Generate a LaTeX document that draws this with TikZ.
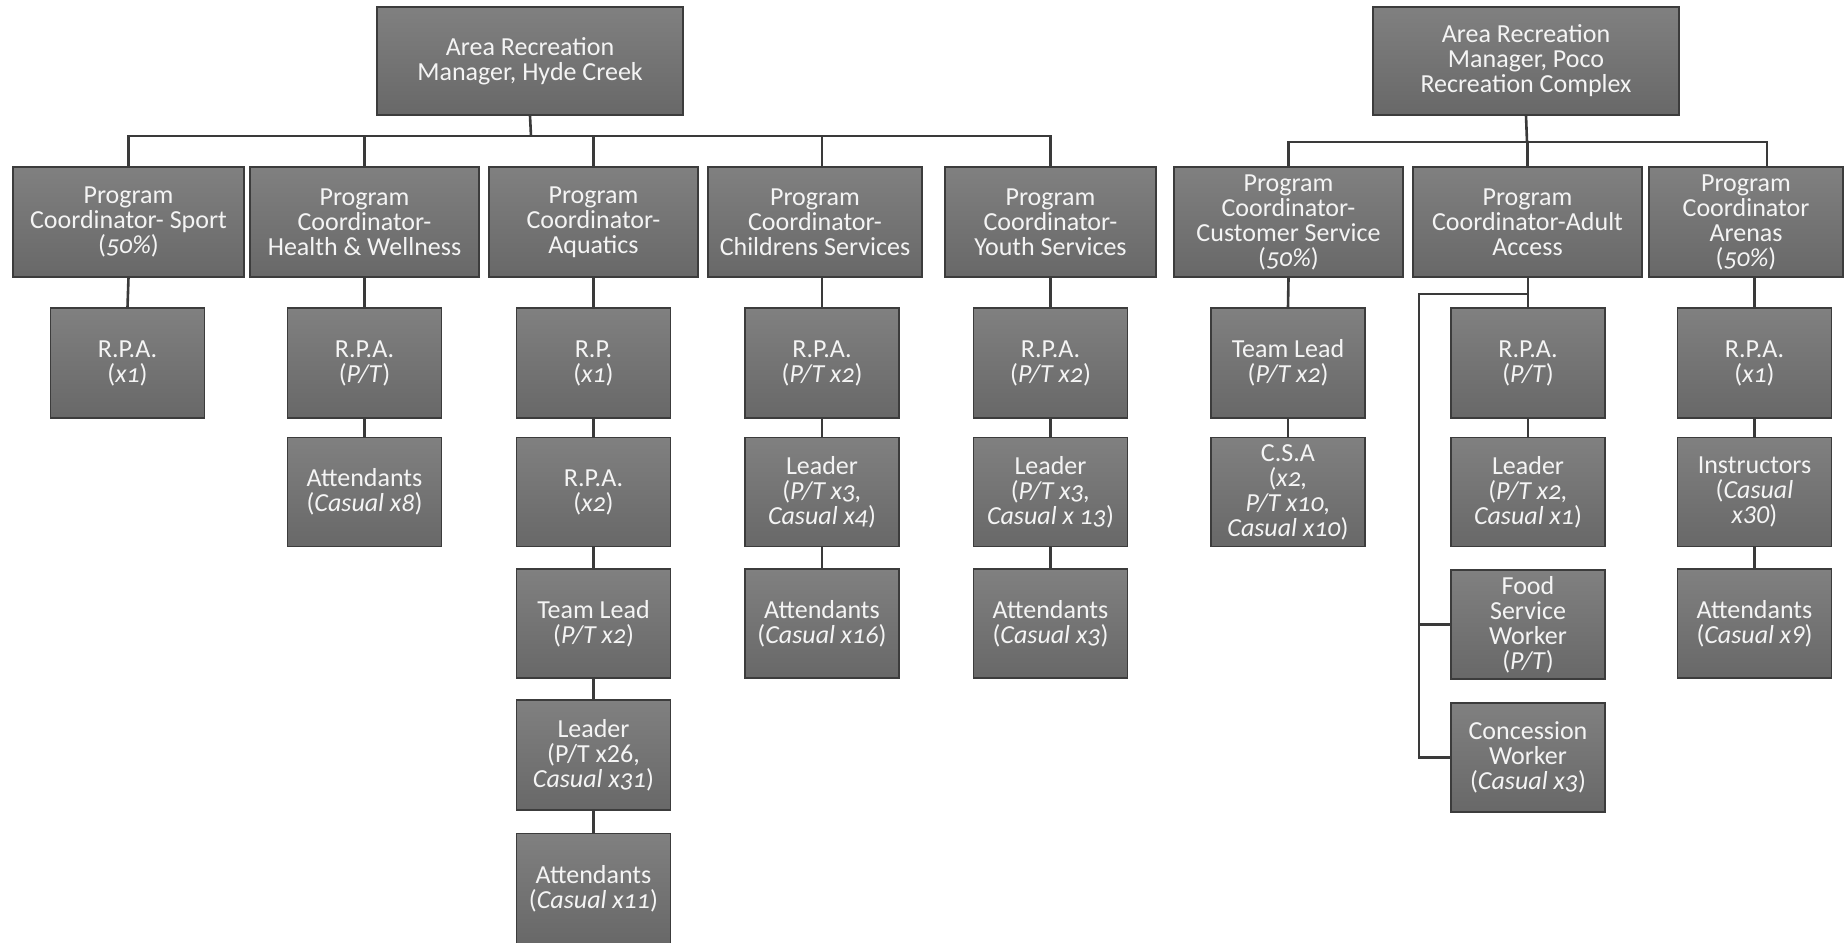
\documentclass[tikz,border=0pt]{standalone}
\usepackage{fontspec}
\setmainfont[Numbers=OldStyle]{Carlito}
\begin{document}
\begin{tikzpicture}[x=1pt,y=-1pt,
  box/.style={draw=bordc, line width=1.3pt, top color=topc, bottom color=botc,
    text=txtc, inner sep=0pt, align=center,
    font=\fontsize{26}{25}\selectfont},
  conn/.style={draw=connc, line width=2.6pt},
]
\definecolor{bordc}{HTML}{3C3C3C}
\definecolor{topc}{HTML}{808080}
\definecolor{botc}{HTML}{686868}
\definecolor{txtc}{HTML}{F4F4F4}
\definecolor{connc}{HTML}{3A3A3A}
\useasboundingbox (0,0) rectangle (1846,942);
\begin{scope}
\clip (0,0) rectangle (1846,942);
% managers
\node[box, minimum width=306, minimum height=108] (m1) at (530,61) {Area Recreation\\Manager, Hyde Creek};
\node[box, minimum width=306, minimum height=108] (m2) at (1526,61) {Area Recreation\\Manager, Poco\\Recreation Complex};
% level 1
\node[box, minimum width=231, minimum height=110] (sport) at (128.5,222) {Program\\Coordinator- Sport\\(\textit{50\%})};
\node[box, minimum width=229, minimum height=110] (health) at (364.5,222) {Program\\Coordinator-\\Health \& Wellness};
\node[box, minimum width=209, minimum height=110] (aq) at (593.5,222) {Program\\Coordinator-\\Aquatics};
\node[box, minimum width=214, minimum height=110] (ch) at (815,222) {Program\\Coordinator-\\Childrens Services};
\node[box, minimum width=211, minimum height=110] (youth) at (1050.5,222) {Program\\Coordinator-\\Youth Services};
\node[box, minimum width=229, minimum height=110] (cs) at (1288.5,222) {Program\\Coordinator-\\Customer Service\\(\textit{50\%})};
\node[box, minimum width=229, minimum height=110] (adult) at (1527.5,222) {Program\\Coordinator-Adult\\Access};
\node[box, minimum width=194, minimum height=110] (arenas) at (1746,222) {Program\\Coordinator\\Arenas\\(\textit{50\%})};
% level 2
\node[box, minimum width=154, minimum height=110] (sportrpa) at (127.5,363) {R.P.A.\\(\textit{x1})};
\node[box, minimum width=154, minimum height=110] (healthrpa) at (364.5,363) {R.P.A.\\(\textit{P/T})};
\node[box, minimum width=154, minimum height=110] (aqrp) at (593.5,363) {R.P.\\(\textit{x1})};
\node[box, minimum width=154, minimum height=110] (chrpa) at (822,363) {R.P.A.\\(\textit{P/T x2})};
\node[box, minimum width=154, minimum height=110] (yrpa) at (1050.5,363) {R.P.A.\\(\textit{P/T x2})};
\node[box, minimum width=154, minimum height=110] (cstl) at (1288,363) {Team Lead\\(\textit{P/T x2})};
\node[box, minimum width=154, minimum height=110] (adrpa) at (1528,363) {R.P.A.\\(\textit{P/T})};
\node[box, minimum width=154, minimum height=110] (arrpa) at (1754.5,363) {R.P.A.\\(\textit{x1})};
% level 3
\node[box, minimum width=154, minimum height=109] (healthatt) at (364.5,492) {Attendants\\(\textit{Casual x8})};
\node[box, minimum width=154, minimum height=109] (aqrpa) at (593.5,492) {R.P.A.\\(\textit{x2})};
\node[box, minimum width=154, minimum height=109] (chlead) at (822,492) {Leader\\(\textit{P/T x3,}\\\textit{Casual x4})};
\node[box, minimum width=154, minimum height=109] (ylead) at (1050.5,492) {Leader\\(\textit{P/T x3,}\\\textit{Casual x 13})};
\node[box, minimum width=154, minimum height=109] (csa) at (1288,492) {C.S.A\\(\textit{x2,}\\\textit{P/T x10,}\\\textit{Casual x10})};
\node[box, minimum width=154, minimum height=109] (adlead) at (1528,492) {Leader\\(\textit{P/T x2,}\\\textit{Casual x1})};
\node[box, minimum width=154, minimum height=109] (arinst) at (1754.5,492) {Instructors\\(\textit{Casual}\\\textit{\addfontfeatures{Numbers=Lining}x30})};
% level 4
\node[box, minimum width=154, minimum height=109] (aqtl) at (593.5,623.5) {Team Lead\\(\textit{P/T x2})};
\node[box, minimum width=154, minimum height=109] (chatt) at (822,623.5) {Attendants\\(\textit{Casual x16})};
\node[box, minimum width=154, minimum height=109] (yatt) at (1050.5,623.5) {Attendants\\(\textit{Casual x3})};
\node[box, minimum width=154, minimum height=109] (food) at (1528,624.5) {Food\\Service\\Worker\\(\textit{P/T})};
\node[box, minimum width=154, minimum height=109] (aratt) at (1754.5,623.5) {Attendants\\(\textit{\addfontfeatures{Numbers=Lining}Casual x9})};
% level 5
\node[box, minimum width=154, minimum height=110] (aqlead) at (593.5,755) {Leader\\({\addfontfeatures{Numbers=Lining}P/T x26},\\\textit{Casual x31})};
\node[box, minimum width=154, minimum height=109] (conc) at (1528,757.5) {Concession\\Worker\\(\textit{Casual x3})};
% level 6
\node[box, minimum width=154, minimum height=110] (aqatt) at (593.5,888.5) {Attendants\\(\textit{Casual x11})};
\end{scope}
% connectors left tree
\coordinate (bus1) at (531,136);
\draw[conn] (m1.south) -- (bus1);
\draw[conn] (sport.north) |- (bus1) -| (youth.north);
\draw[conn] (health.north) -- (health.north |- bus1);
\draw[conn] (aq.north) -- (aq.north |- bus1);
\draw[conn] (chrpa.north |- ch.north) -- (chrpa.north |- bus1);
% connectors right tree
\coordinate (bus2) at (1527,142);
\draw[conn] (m2.south) -- (bus2);
\draw[conn] (cs.north) |- (bus2) -| ([xshift=21]arenas.north);
\draw[conn] (adult.north) -- (adult.north |- bus2);
% chains
\draw[conn] (sport.south) -- (sportrpa.north);
\draw[conn] (health.south) -- (healthrpa.north);
\draw[conn] (healthrpa) -- (healthatt);
\draw[conn] (aq.south) -- (aqrp.north);
\draw[conn] (aqrp) -- (aqrpa);
\draw[conn] (aqrpa) -- (aqtl);
\draw[conn] (aqtl) -- (aqlead);
\draw[conn] (aqlead) -- (aqatt);
\draw[conn] (chrpa.north |- ch.south) -- (chrpa.north);
\draw[conn] (chrpa) -- (chlead);
\draw[conn] (chlead) -- (chatt);
\draw[conn] (youth.south) -- (yrpa.north);
\draw[conn] (yrpa) -- (ylead);
\draw[conn] (ylead) -- (yatt);
\draw[conn] (cs.south) -- (cstl.north);
\draw[conn] (cstl) -- (csa);
\draw[conn] (adrpa.north |- adult.south) -- (adrpa.north);
\draw[conn] (adrpa) -- (adlead);
\draw[conn] (arrpa.north |- arenas.south) -- (arrpa.north);
\draw[conn] (arrpa) -- (arinst);
\draw[conn] (arinst) -- (aratt);
% adult side bus
\coordinate (aj) at (1528,294);
\coordinate (lb) at (1419,294);
\draw[conn] (aj) -- (lb) |- (conc.west);
\draw[conn] (lb |- food.west) -- (food.west);
\end{tikzpicture}
\end{document}
